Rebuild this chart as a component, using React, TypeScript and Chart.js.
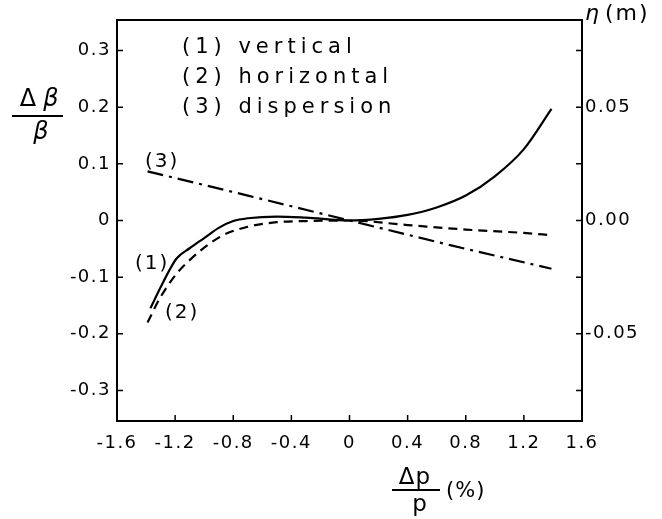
import React, { useEffect, useRef } from 'react';
import { Chart, registerables } from 'chart.js';

Chart.register(...registerables);

// ---- Data ----
const xTicks = [-1.6, -1.2, -0.8, -0.4, 0, 0.4, 0.8, 1.2, 1.6];
const xTickLabels = ['-1.6', '-1.2', '-0.8', '-0.4', '0', '0.4', '0.8', '1.2', '1.6'];
const leftTicks = [-0.3, -0.2, -0.1, 0, 0.1, 0.2, 0.3];
const leftTickLabels = ['-0.3', '-0.2', '-0.1', '0', '0.1', '0.2', '0.3'];
const rightTicks = [-0.075, -0.05, -0.025, 0, 0.025, 0.05, 0.075];
const rightTickLabels = ['', '-0.05', '', '0.00', '', '0.05', ''];

// (1) vertical  Δβ/β
const verticalX = [-1.37, -1.3, -1.24, -1.19, -1.1, -1.0, -0.9, -0.8, -0.7, -0.5, -0.3, 0, 0.2, 0.4, 0.6, 0.8, 1.0, 1.2, 1.39];
const verticalY = [-0.155, -0.118, -0.088, -0.067, -0.049, -0.031, -0.013, -0.001, 0.004, 0.007, 0.005, 0, 0.003, 0.01, 0.023, 0.044, 0.078, 0.126, 0.197];
// (2) horizontal  Δβ/β
const horizontalX = [-1.39, -1.3, -1.19, -1.1, -1.0, -0.87, -0.7, -0.5, -0.3, 0, 0.4, 0.8, 1.2, 1.39];
const horizontalY = [-0.18, -0.135, -0.094, -0.07, -0.048, -0.026, -0.011, -0.003, -0.001, 0, -0.008, -0.016, -0.022, -0.026];
// (3) dispersion  η (m)
const dispersionX = [-1.39, -0.7, 0, 0.7, 1.39];
const dispersionY = [0.0217, 0.011, 0, -0.011, -0.0213];

const legendLines = ['(1) vertical', '(2) horizontal', '(3) dispersion'];
const curveTags = ['(1)', '(2)', '(3)'];

const FONT = '"DejaVu Sans", sans-serif';

const decorPlugin = {
  id: 'decor',
  beforeDraw(chart: any) {
    const ctx = chart.ctx;
    ctx.fillStyle = '#fff';
    ctx.fillRect(0, 0, chart.width, chart.height);
    (ctx as any).letterSpacing = '1.5px';
  },
  afterDraw(chart: any) {
    const ctx = chart.ctx;
    const { left, right, top, bottom } = chart.chartArea;
    const xs = chart.scales.x;
    const ys = chart.scales.y;
    const y2 = chart.scales.y2;
    ctx.save();
    (ctx as any).letterSpacing = '0px';
    ctx.strokeStyle = '#000';
    ctx.lineWidth = 2;
    ctx.setLineDash([]);
    ctx.beginPath();
    ctx.rect(left, top, right - left, bottom - top);
    ctx.stroke();
    // inward ticks
    const tl = 6;
    ctx.lineWidth = 1.5;
    ctx.beginPath();
    leftTicks.forEach((v) => {
      const p = ys.getPixelForValue(v);
      ctx.moveTo(left, p);
      ctx.lineTo(left + tl, p);
    });
    rightTicks.forEach((v) => {
      const p = y2.getPixelForValue(v);
      ctx.moveTo(right, p);
      ctx.lineTo(right - tl, p);
    });
    xTicks.slice(1, -1).forEach((v) => {
      const p = xs.getPixelForValue(v);
      ctx.moveTo(p, bottom);
      ctx.lineTo(p, bottom - tl);
    });
    ctx.stroke();

    ctx.fillStyle = '#000';
    // legend text
    (ctx as any).letterSpacing = '5px';
    ctx.font = `21px ${FONT}`;
    ctx.textAlign = 'left';
    ctx.textBaseline = 'middle';
    legendLines.forEach((t, i) => {
      ctx.fillText(t, left + 65, top + 28 + i * 30);
    });
    // curve tags
    (ctx as any).letterSpacing = '2px';
    ctx.font = `20px ${FONT}`;
    ctx.fillText(curveTags[2], xs.getPixelForValue(-1.407), ys.getPixelForValue(0.104));
    ctx.fillText(curveTags[0], xs.getPixelForValue(-1.476), ys.getPixelForValue(-0.076));
    ctx.fillText(curveTags[1], xs.getPixelForValue(-1.27), ys.getPixelForValue(-0.163));

    // left axis title: Δβ / β
    (ctx as any).letterSpacing = '0px';
    ctx.textAlign = 'center';
    ctx.font = `24px ${FONT}`;
    ctx.fillText('Δ', 28, 100);
    ctx.font = `italic 24px ${FONT}`;
    ctx.fillText('β', 51, 100);
    ctx.fillText('β', 41, 133);
    ctx.lineWidth = 2;
    ctx.beginPath();
    ctx.moveTo(12, 116);
    ctx.lineTo(63, 116);
    ctx.stroke();

    // right axis title
    ctx.textAlign = 'left';
    ctx.font = `italic 22px ${FONT}`;
    ctx.fillText('η', 585, 14);
    (ctx as any).letterSpacing = '2px';
    ctx.font = `22px ${FONT}`;
    ctx.fillText('(m)', 605, 14);

    // x axis title: Δp / p (%)
    (ctx as any).letterSpacing = '1px';
    ctx.textAlign = 'center';
    ctx.font = `23px ${FONT}`;
    ctx.fillText('Δp', 415, 478);
    ctx.fillText('p', 420, 505);
    ctx.beginPath();
    ctx.moveTo(392, 490);
    ctx.lineTo(440, 490);
    ctx.stroke();
    ctx.textAlign = 'left';
    ctx.font = `21px ${FONT}`;
    ctx.fillText('(%)', 446, 492);
    ctx.restore();
  },
};

export default function App() {
  const ref = useRef<HTMLCanvasElement | null>(null);
  useEffect(() => {
    if (!ref.current) return;
    const tickFont = { family: FONT, size: 18 };
    const chart = new Chart(ref.current, {
      type: 'line',
      data: {
        datasets: [
          {
            label: 'vertical',
            data: verticalX.map((x, i) => ({ x, y: verticalY[i] })),
            borderColor: '#000',
            borderWidth: 2.2,
            pointRadius: 0,
            cubicInterpolationMode: 'monotone',
            yAxisID: 'y',
          },
          {
            label: 'horizontal',
            data: horizontalX.map((x, i) => ({ x, y: horizontalY[i] })),
            borderColor: '#000',
            borderWidth: 2.2,
            borderDash: [9, 6],
            pointRadius: 0,
            cubicInterpolationMode: 'monotone',
            yAxisID: 'y',
          },
          {
            label: 'dispersion',
            data: dispersionX.map((x, i) => ({ x, y: dispersionY[i] })),
            borderColor: '#000',
            borderWidth: 2.2,
            borderDash: [16, 6, 3, 6],
            pointRadius: 0,
            yAxisID: 'y2',
          },
        ],
      },
      options: {
        animation: false,
        responsive: false,
        layout: { padding: { top: 20, left: 0, right: 0, bottom: 0 } },
        plugins: { legend: { display: false }, tooltip: { enabled: false } },
        scales: {
          x: {
            type: 'linear',
            min: -1.6,
            max: 1.6,
            afterBuildTicks: (s: any) => {
              s.ticks = xTicks.map((v) => ({ value: v }));
            },
            afterFit: (s: any) => {
              s.height = 98;
            },
            ticks: {
              autoSkip: false,
              maxRotation: 0,
              padding: 12,
              color: '#000',
              font: tickFont,
              callback: (v: any) => xTickLabels[xTicks.indexOf(v)] ?? '',
            },
            grid: { drawOnChartArea: false, drawTicks: false },
            border: { display: false },
          },
          y: {
            type: 'linear',
            position: 'left',
            min: -0.354,
            max: 0.354,
            afterBuildTicks: (s: any) => {
              s.ticks = leftTicks.map((v) => ({ value: v }));
            },
            afterFit: (s: any) => {
              s.width = 117;
            },
            ticks: {
              padding: 6,
              color: '#000',
              font: tickFont,
              callback: (v: any) => leftTickLabels[leftTicks.indexOf(v)] ?? '',
            },
            grid: { drawOnChartArea: false, drawTicks: false },
            border: { display: false },
          },
          y2: {
            type: 'linear',
            position: 'right',
            min: -0.0885,
            max: 0.0885,
            afterBuildTicks: (s: any) => {
              s.ticks = rightTicks.map((v) => ({ value: v }));
            },
            afterFit: (s: any) => {
              s.width = 80;
            },
            ticks: {
              padding: 3,
              color: '#000',
              font: tickFont,
              callback: (v: any) => rightTickLabels[rightTicks.indexOf(v)] ?? '',
            },
            grid: { drawOnChartArea: false, drawTicks: false },
            border: { display: false },
          },
        },
      },
      plugins: [decorPlugin],
    } as any);
    return () => chart.destroy();
  }, []);
  return (
    <div style={{ position: 'fixed', left: 0, top: 0, width: 662, height: 519, background: '#fff' }}>
      <canvas ref={ref} width={662} height={519} style={{ display: 'block' }} />
    </div>
  );
}
